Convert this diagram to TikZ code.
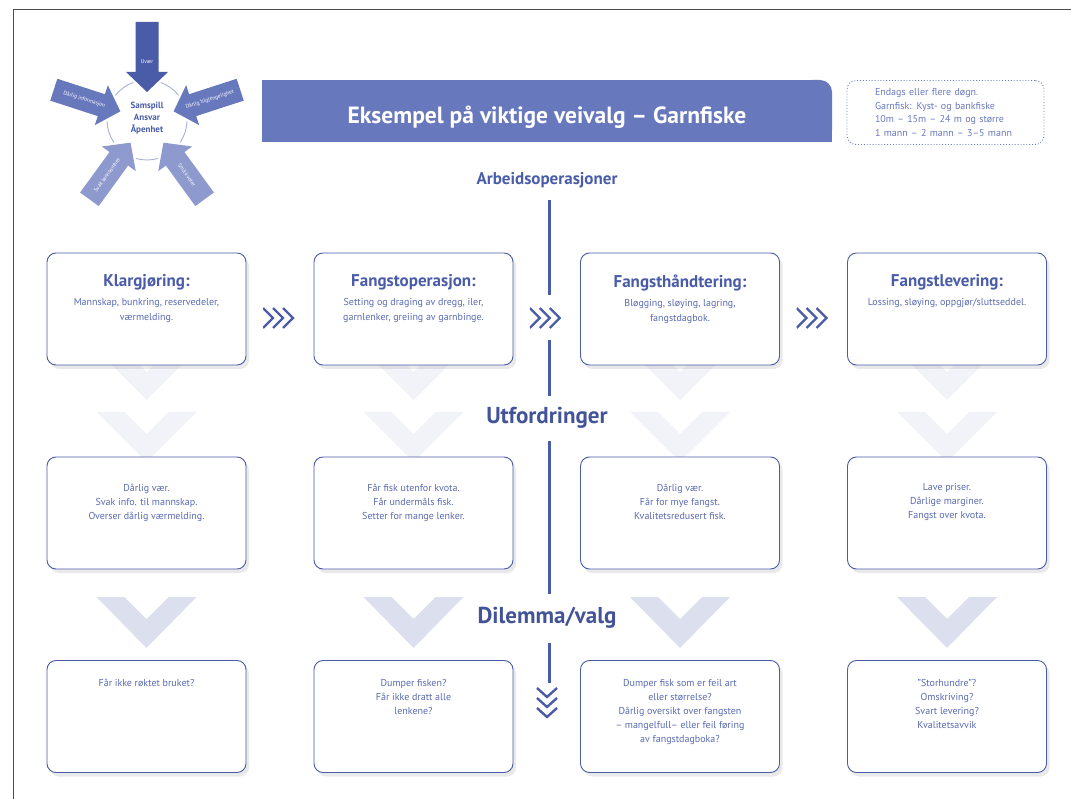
\documentclass[tikz,border=0pt]{standalone}
\usepackage{fontspec}
\setmainfont{PT Sans}
\usetikzlibrary{positioning,calc,shadows}

\definecolor{navy}{HTML}{4A5CA8}
\definecolor{midblue}{HTML}{6878BD}
\definecolor{paleblue}{HTML}{8E9ACE}
\definecolor{txtblue}{HTML}{5A6BB2}
\definecolor{ringblue}{HTML}{A7B0DA}
\definecolor{ghost}{HTML}{F2F3F8}
\definecolor{ghostdark}{HTML}{DCE0EE}

\tikzset{
  inarrow/.pic={\fill (-11.5,-98) -- (11.5,-98) -- (11.5,-48) -- (21,-48) -- (0,-28) -- (-21,-48) -- (-11.5,-48) -- cycle;},
  fwd/.style={minimum width=40pt, minimum height=28pt, inner sep=0pt, path picture={
    \draw[navy, line width=2.4pt] ([shift={(-20pt,10pt)}]path picture bounding box.center) -- ++(10pt,-10pt) -- ++(-10pt,-10pt);
    \draw[navy, line width=2.4pt] ([shift={(-10pt,10pt)}]path picture bounding box.center) -- ++(10pt,-10pt) -- ++(-10pt,-10pt);
    \draw[navy, line width=2.4pt] ([shift={(0pt,10pt)}]path picture bounding box.center) -- ++(10pt,-10pt) -- ++(-10pt,-10pt);}},
  dwn/.style={minimum width=28pt, minimum height=34pt, inner sep=0pt, path picture={
    \draw[navy, line width=2.4pt] ([shift={(-10pt,14pt)}]path picture bounding box.center) -- ++(10pt,-9pt) -- ++(10pt,9pt);
    \draw[navy, line width=2.4pt] ([shift={(-10pt,4pt)}]path picture bounding box.center) -- ++(10pt,-9pt) -- ++(10pt,9pt);
    \draw[navy, line width=2.4pt] ([shift={(-10pt,-6pt)}]path picture bounding box.center) -- ++(10pt,-9pt) -- ++(10pt,9pt);}}
}

\begin{document}
\begin{tikzpicture}[x=1pt,y=-1pt,
  card/.style={draw=navy, line width=0.9pt, rounded corners=9pt, fill=white,
    minimum width=199pt, minimum height=112pt,
    drop shadow={shadow xshift=3pt, shadow yshift=-4pt, fill=black!70, opacity=0.12}},
  head/.style={inner sep=0pt, text=navy, font=\bfseries\fontsize{17}{19}\selectfont},
  body/.style={inner sep=0pt, text=txtblue, align=center, font=\fontsize{10}{14}\selectfont},
  lbl/.style={inner sep=0pt, text=navy, font=\bfseries\fontsize{17}{19}\selectfont},
  big/.style={inner sep=0pt, text=navy!90!black, font=\bfseries\fontsize{23}{26}\selectfont},
  vline/.style={navy, line width=3pt},
  ring/.style={ringblue, line width=0.9pt},
  tag/.style={inner sep=0pt, text=white, font=\fontsize{5.5}{6}\selectfont},
  info/.style={draw=midblue, dotted, line width=0.9pt, rounded corners=9pt,
    text width=141pt, inner xsep=28pt, minimum height=64pt, align=left,
    text=midblue, font=\fontsize{10}{13.5}\selectfont}]
\useasboundingbox (0,0) rectangle (1071,799);
\draw[black!70, line width=0.8pt] (1071,9) -- (13,9) -- (13,799);

\coordinate (hub) at (147,120);
\foreach \a in {18,90,162,234,306}
  \draw[ring] ([shift={(\a-16:40)}]hub) arc[start angle=\a-16, end angle=\a+16, radius=40];
\pic[navy] at (hub) {inarrow};
\pic[midblue, rotate=72] at (hub) {inarrow};
\pic[paleblue, rotate=144] at (hub) {inarrow};
\pic[paleblue, rotate=216] at (hub) {inarrow};
\pic[midblue, rotate=288] at (hub) {inarrow};
\path (hub) ++(-90:58) node[tag] (t1) {Uvær};
\path (hub) ++(-162:66) node[tag, rotate=-18] (t2) {Dårlig informasjon};
\path (hub) ++(126:68) node[tag, rotate=54] (t3) {Svak lønnsomhet};
\path (hub) ++(54:68) node[tag, rotate=-54] (t4) {Små kvoter};
\path (hub) ++(-18:66) node[tag, rotate=18] (t5) {Dårlig tilgjengelighet};
\node[inner sep=0pt, text=navy, align=center, font=\bfseries\fontsize{9}{12}\selectfont] (core) at (147,118) {Samspill\\Ansvar\\Åpenhet};

\fill[midblue] (262,80) rectangle (815,142);
\fill[midblue, rounded corners=12pt] (800,80) rectangle (832,142);
\fill[midblue] (800,112) rectangle (832,142);
\node[inner sep=0pt, text=white, font=\bfseries\fontsize{23.5}{26}\selectfont] (title) at (547,117) {Eksempel på viktige veivalg – Garnfiske};
\node[info] (facts) at (945.5,112.5) {Endags eller flere døgn.\\Garnfisk: Kyst- og bankfiske\\10m – 15m – 24 m og større\\1 mann – 2 mann – 3–5 mann};

\foreach \c in {146.5,413.5,680,947} {
  \fill[ghost] (\c-50,350) -- (\c,400) -- (\c+50,350) -- (\c+22,350) -- (\c,372) -- (\c-22,350) -- cycle;
  \fill[ghost] (\c-50,412) -- (\c,462) -- (\c+50,412) -- (\c+22,412) -- (\c,434) -- (\c-22,412) -- cycle;
  \fill[ghostdark] (\c-50,597) -- (\c,648) -- (\c+50,597) -- (\c+22,597) -- (\c,619) -- (\c-22,597) -- cycle;
}

\node[card] (k1) at (146.5,309) {};
\node[card] (k2) at (413.5,309) {};
\node[card] (k3) at (680,309) {};
\node[card] (k4) at (947,309) {};
\node[head, below=22pt of k1.north] (h1) {Klargjøring:};
\node[head, below=22pt of k2.north] (h2) {Fangstoperasjon:};
\node[head, below=22pt of k3.north] (h3) {Fangsthåndtering:};
\node[head, below=22pt of k4.north] (h4) {Fangstlevering:};
\node[body, font=\fontsize{10}{15}\selectfont, below=8pt of h1] (b1) {Mannskap, bunkring, reservedeler,\\værmelding.};
\node[body, font=\fontsize{10}{15}\selectfont, below=8pt of h2] (b2) {Setting og draging av dregg, iler,\\garnlenker, greiing av garnbinge.};
\node[body, font=\fontsize{10}{15}\selectfont, below=8pt of h3] (b3) {Bløgging, sløying, lagring,\\fangstdagbok.};
\node[body, font=\fontsize{10}{15}\selectfont, below=8pt of h4] (b4) {Lossing, sløying, oppgjør/sluttseddel.};

\node[card] (u1) at (146.5,513) {};
\node[card] (u2) at (413.5,513) {};
\node[card] (u3) at (680,513) {};
\node[card] (u4) at (947,513) {};
\node[body, below=27pt of u1.north] (c1) {Dårlig vær.\\Svak info. til mannskap.\\Overser dårlig værmelding.};
\node[body, below=27pt of u2.north] (c2) {Får fisk utenfor kvota.\\Får undermåls fisk.\\Setter for mange lenker.};
\node[body, below=27pt of u3.north] (c3) {Dårlig vær.\\Får for mye fangst.\\Kvalitetsredusert fisk.};
\node[body, below=27pt of u4.north] (c4) {Lave priser.\\Dårlige marginer.\\Fangst over kvota.};

\node[card] (d1) at (146.5,716.5) {};
\node[card] (d2) at (413.5,716.5) {};
\node[card] (d3) at (680,716.5) {};
\node[card] (d4) at (947,716.5) {};
\node[body, below=19pt of d1.north] (e1) {Får ikke røktet bruket?};
\node[body, below=19pt of d2.north] (e2) {Dumper fisken?\\Får ikke dratt alle\\lenkene?};
\node[body, below=19pt of d3.north] (e3) {Dumper fisk som er feil art\\eller størrelse?\\Dårlig oversikt over fangsten\\– mangelfull– eller feil føring\\av fangstdagboka?};
\node[body, below=19pt of d4.north] (e4) {"Storhundre"?\\Omskriving?\\Svart levering?\\Kvalitetsavvik};

\node[fwd] (g1) at ($(k1.east)!0.5!(k2.west)+(3,9)$) {};
\node[fwd] (g2) at ($(k2.east)!0.5!(k3.west)+(3,9)$) {};
\node[fwd] (g3) at ($(k3.east)!0.5!(k4.west)+(3,9)$) {};

\node[lbl] (arb) at (547,180) {Arbeidsoperasjoner};
\node[big] (utf) at (547,418) {Utfordringer};
\node[big] (dil) at (547,618) {Dilemma/valg};
\node[dwn] (dn) at (547,702) {};

\draw[vline] ([yshift=-12pt]arb.south -| g2) -- ([yshift=9pt]g2.north);
\draw[vline] ([yshift=-8pt]g2.south) -- ([yshift=11pt]utf.north -| g2);
\draw[vline] ([yshift=-12pt]utf.south -| g2) -- ([yshift=13pt]dil.north -| g2);
\draw[vline] ([yshift=-14pt]dil.south -| g2) -- ([yshift=2pt]dn.north -| g2);
\end{tikzpicture}
\end{document}
